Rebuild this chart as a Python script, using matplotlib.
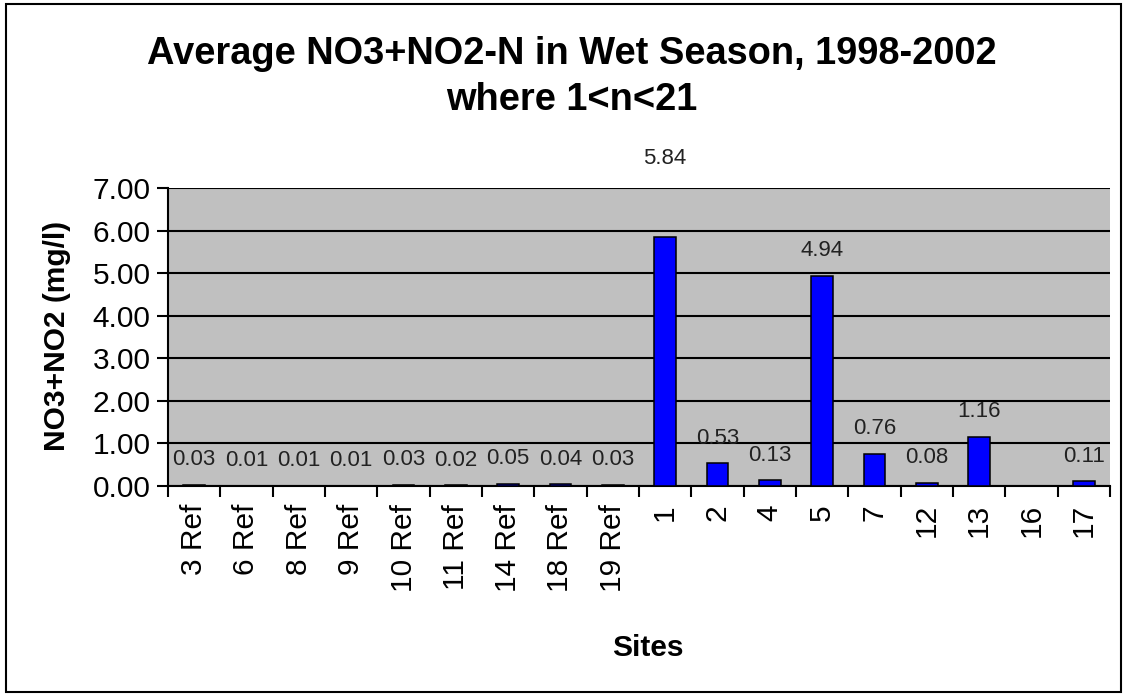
import numpy as np
import matplotlib
matplotlib.use("Agg")
import matplotlib.pyplot as plt
from matplotlib.patches import Rectangle

sites = ["3 Ref", "6 Ref", "8 Ref", "9 Ref", "10 Ref", "11 Ref", "14 Ref", "18 Ref", "19 Ref",
         "1", "2", "4", "5", "7", "12", "13", "16", "17"]
values = [0.03, 0.01, 0.01, 0.01, 0.03, 0.02, 0.05, 0.04, 0.03,
          5.84, 0.53, 0.13, 4.94, 0.76, 0.08, 1.16, np.nan, 0.11]
yticks = [0, 1, 2, 3, 4, 5, 6, 7]

plt.rcParams['font.family'] = ['Liberation Sans', 'DejaVu Sans']

W, H = 1127, 696
fig = plt.figure(figsize=(W / 100, H / 100), dpi=100)
ax = fig.add_axes([168 / W, 1 - 486 / H, (1110 - 168) / W, (486 - 188) / H])

# outer chart border
fig.patches.append(Rectangle((6 / W, 4 / H), 1 - 12 / W, 1 - 8 / H,
                             transform=fig.transFigure, fill=False, edgecolor='black', lw=1.5))

x = np.arange(len(sites))
ax.set_facecolor('#C0C0C0')
ax.set_axisbelow(True)
ax.yaxis.grid(True, color='black', lw=1.5)
ax.bar(x, values, width=0.42, color='#0000FF', edgecolor='black', lw=1.1, zorder=3)

# data labels (the tallest one sits higher, above the plot area)
for xi, v in zip(x, values):
    if np.isnan(v):
        continue
    off = 57 if v > 5.5 else 18
    ax.annotate(f"{v:.2f}", (xi, v), xytext=(0, off), textcoords='offset points',
                ha='center', va='center', fontsize=16, color='#222222',
                annotation_clip=False)

ax.set_xlim(-0.5, len(sites) - 0.5)
ax.set_ylim(0, 7)
ax.set_yticks(yticks)
ax.set_yticklabels([f"{t:.2f}" for t in yticks], fontsize=21.5)
ax.set_xticks(np.arange(len(sites) + 1) - 0.5)
ax.set_xticklabels([])
ax.set_xticks(x, minor=True)
ax.set_xticklabels(sites, minor=True, rotation=90, fontsize=21.5, va='top')
ax.tick_params(axis='x', which='minor', length=0, pad=13)
ax.tick_params(axis='x', which='major', length=8, width=1.5, direction='out')
ax.tick_params(axis='y', length=8, width=1.5, direction='out', pad=4.5)

for side in ['top', 'right']:
    ax.spines[side].set_visible(False)
for side in ['left', 'bottom']:
    ax.spines[side].set_linewidth(1.5)

fig.text(57 / W, 1 - 336 / H, "NO3+NO2 (mg/l)", rotation=90, ha='center', va='center',
         fontsize=21.5, fontweight='bold')
fig.text(648 / W, 1 - 648 / H, "Sites", ha='center', va='center',
         fontsize=21.5, fontweight='bold')
fig.text(572 / W, 1 - 54 / H, "Average NO3+NO2-N in Wet Season, 1998-2002",
         ha='center', va='center', fontsize=27.4, fontweight='bold')
fig.text(572 / W, 1 - 100 / H, "where 1<n<21",
         ha='center', va='center', fontsize=27.4, fontweight='bold')

fig.savefig("out.png", dpi=100)
